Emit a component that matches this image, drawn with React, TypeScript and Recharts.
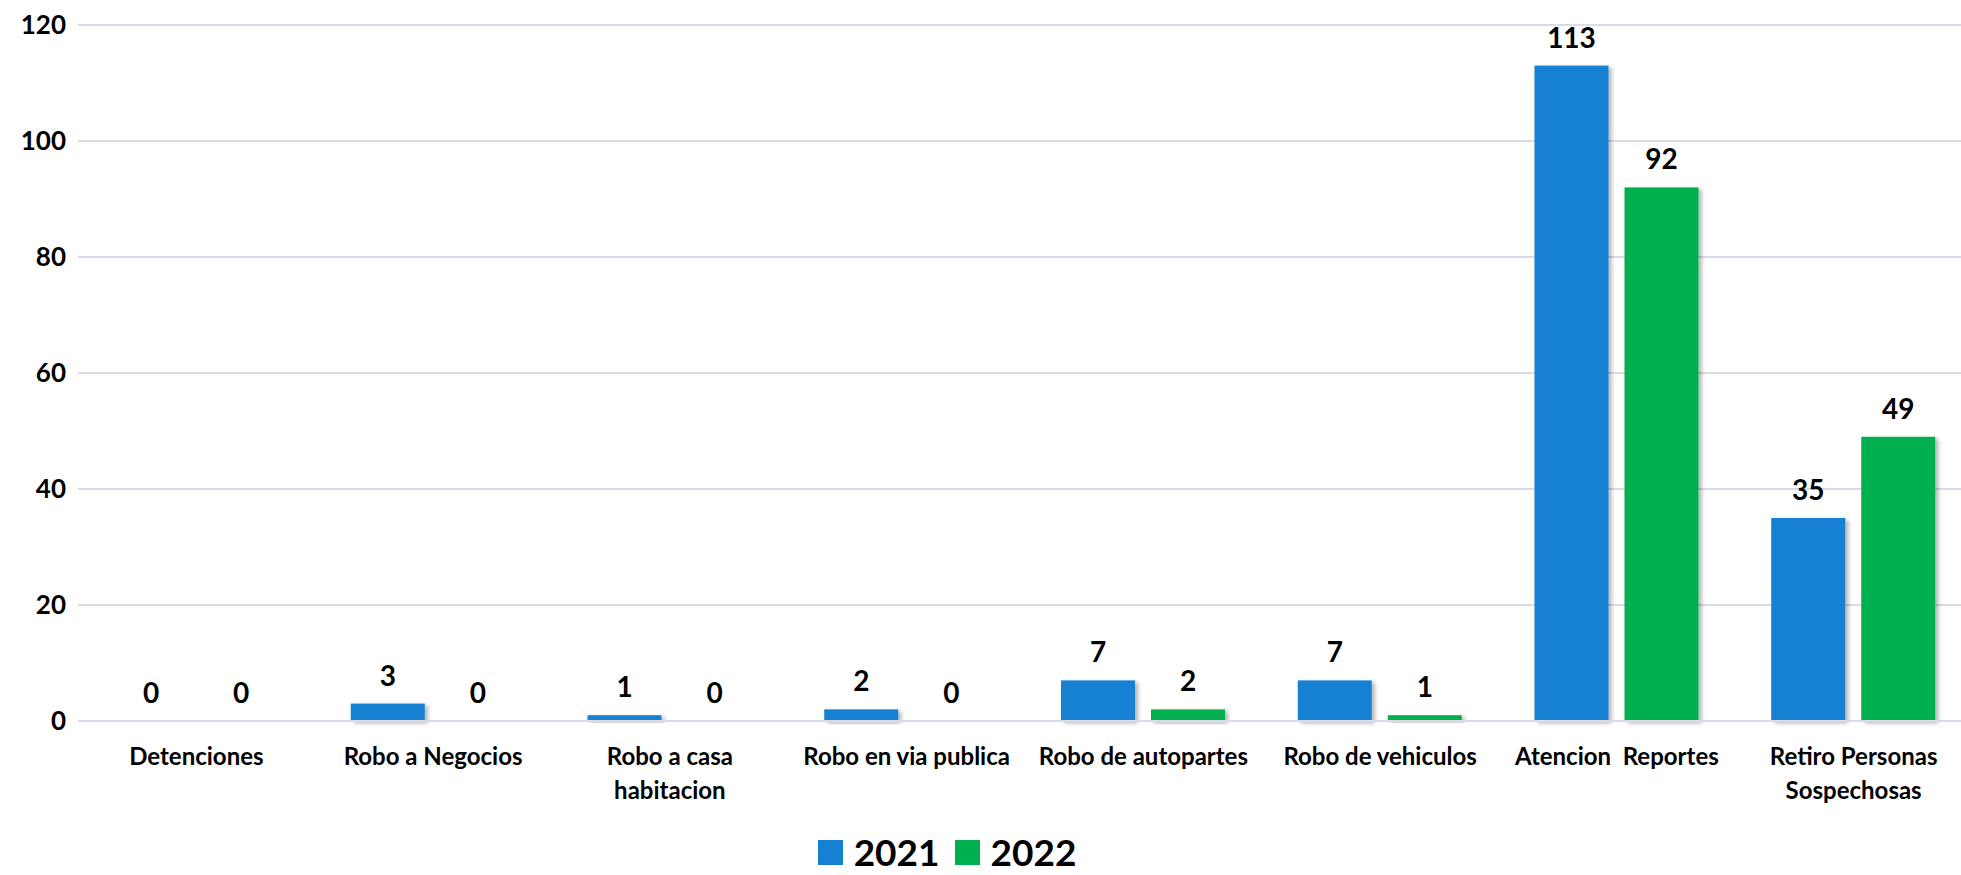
import React from 'react';
import {
  BarChart,
  Bar,
  XAxis,
  YAxis,
  CartesianGrid,
  Legend,
  LabelList,
} from 'recharts';

const categories = [
  'Detenciones',
  'Robo a Negocios',
  'Robo a casa\nhabitacion',
  'Robo en via publica',
  'Robo de autopartes',
  'Robo de vehiculos',
  'Atencion  Reportes',
  'Retiro Personas\nSospechosas',
];
const values2021 = [0, 3, 1, 2, 7, 7, 113, 35];
const values2022 = [0, 0, 0, 0, 2, 1, 92, 49];
const yTicks = [0, 20, 40, 60, 80, 100, 120];

const BLUE = '#1580D2';
const GREEN = '#00B050';
const FONT = 'Lato, "Open Sans", sans-serif';

const data = categories.map((name, i) => ({
  name,
  y2021: values2021[i],
  y2022: values2022[i],
}));

const CategoryTick = (props: any) => {
  const { x, y, payload } = props;
  const lines = String(payload.value).split('\n');
  return (
    <text
      x={x}
      y={y}
      textAnchor="middle"
      fontFamily={FONT}
      fontSize={24}
      fontWeight={700}
      fill="#000"
      style={{ whiteSpace: 'pre' }}
    >
      {lines.map((line, i) => (
        <tspan key={i} x={x} dy={i === 0 ? 44 : 34}>
          {line}
        </tspan>
      ))}
    </text>
  );
};

// bars with a little drop shadow like the original
const ShadowBar = (props: any) => {
  const { x, y, width, height, fill } = props;
  if (!height || height <= 0) return null;
  return <rect x={x} y={y} width={width} height={height} fill={fill} filter="url(#barShadow)" />;
};

const LegendContent = () => (
  <div
    style={{
      display: 'flex',
      justifyContent: 'center',
      alignItems: 'center',
      height: 40,
      paddingRight: 78,
      fontFamily: FONT,
      fontWeight: 700,
      fontSize: 37,
      lineHeight: '40px',
      color: '#000',
    }}
  >
    <span style={{ width: 25, height: 25, background: BLUE, marginRight: 11 }} />
    <span style={{ marginRight: 15 }}>2021</span>
    <span style={{ width: 25, height: 25, background: GREEN, marginRight: 11 }} />
    <span>2022</span>
  </div>
);

export default function App() {
  return (
    <div style={{ position: 'absolute', top: 0, left: 0, width: 1961, height: 875, overflow: 'hidden', background: '#fff' }}>
      <BarChart
        width={1972}
        height={875}
        data={data}
        margin={{ top: 25, right: 0, left: 0, bottom: 0 }}
        barSize={74}
        barGap={16}
      >
        <defs>
          <filter id="barShadow" x="-20%" y="-20%" width="150%" height="150%">
            <feDropShadow dx="3" dy="2" stdDeviation="2" floodColor="#000" floodOpacity="0.3" />
          </filter>
        </defs>
        <CartesianGrid vertical={false} stroke="#D9DBEA" strokeWidth={2} />
        <XAxis
          dataKey="name"
          axisLine={{ stroke: '#D9DBEA', strokeWidth: 2 }}
          tickLine={false}
          tickSize={0}
          tickMargin={0}
          height={114}
          interval={0}
          tick={<CategoryTick />}
        />
        <YAxis
          width={78}
          domain={[0, 120]}
          ticks={yTicks}
          axisLine={false}
          tickLine={false}
          tickMargin={6}
          tick={{ fill: '#000', fontSize: 26, fontWeight: 700, fontFamily: FONT }}
        />
        <Legend verticalAlign="bottom" wrapperStyle={{ height: 40, bottom: 3 }} content={<LegendContent />} />
        <Bar dataKey="y2021" name="2021" fill={BLUE} shape={<ShadowBar />} isAnimationActive={false}>
          <LabelList
            dataKey="y2021"
            position="top"
            offset={18}
            fill="#000"
            fontSize={28}
            fontWeight={700}
            fontFamily={FONT}
          />
        </Bar>
        <Bar dataKey="y2022" name="2022" fill={GREEN} shape={<ShadowBar />} isAnimationActive={false}>
          <LabelList
            dataKey="y2022"
            position="top"
            offset={18}
            fill="#000"
            fontSize={28}
            fontWeight={700}
            fontFamily={FONT}
          />
        </Bar>
      </BarChart>
    </div>
  );
}
